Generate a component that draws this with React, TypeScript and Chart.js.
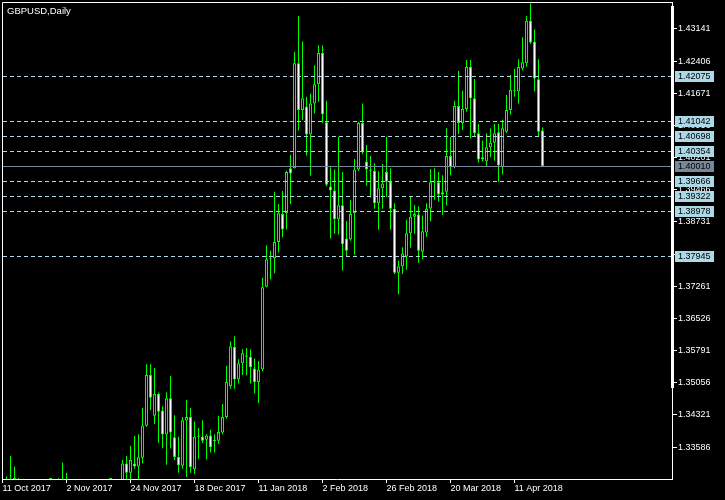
import React, { useEffect, useRef } from 'react';
import { Chart, registerables } from 'chart.js';

Chart.register(...registerables);

const symbolTitle = 'GBPUSD,Daily';

const tickIndexes = [0, 16, 32, 48, 64, 80, 96, 112, 128];
const tickDates = [
  '11 Oct 2017', '2 Nov 2017', '24 Nov 2017', '18 Dec 2017', '11 Jan 2018',
  '2 Feb 2018', '26 Feb 2018', '20 Mar 2018', '11 Apr 2018',
];

const priceTicks = [
  1.43141, 1.42406, 1.41671, 1.40936, 1.40201, 1.39466, 1.38731,
  1.37996, 1.37261, 1.36526, 1.35791, 1.35056, 1.34321, 1.33586,
];

const levels = [1.42075, 1.41042, 1.40698, 1.40354, 1.39666, 1.39322, 1.38978, 1.37945];
const bidPrice = 1.4001;

const opens = [
  1.3195, 1.3245, 1.3270, 1.3288, 1.3265, 1.3195, 1.3200, 1.3190, 1.3200, 1.3210,
  1.3160, 1.3265, 1.3130, 1.3130, 1.3220, 1.3280, 1.3255, 1.3060, 1.3075, 1.3160,
  1.3150, 1.3120, 1.3150, 1.3190, 1.3120, 1.3170, 1.3185, 1.3210, 1.3210, 1.3225,
  1.3245, 1.3321, 1.3300, 1.3321, 1.3314, 1.3334, 1.3407, 1.3523, 1.3430, 1.3480,
  1.3442, 1.3387, 1.3470, 1.3381, 1.3336, 1.3316, 1.3419, 1.3427, 1.3308, 1.3382,
  1.3382, 1.3375, 1.3385, 1.3375, 1.3373, 1.3392, 1.3427, 1.3498, 1.3587, 1.3513,
  1.3550, 1.3568, 1.3565, 1.3538, 1.3507, 1.3536, 1.3725, 1.3788, 1.3790, 1.3827,
  1.3891, 1.3893, 1.3996, 1.3996, 1.4236, 1.4129, 1.4137, 1.4073, 1.4144, 1.4188,
  1.4259, 1.4101, 1.3954, 1.3945, 1.3879, 1.3911, 1.3835, 1.3833, 1.3893, 1.3993,
  1.4099, 1.4011, 1.3993, 1.3990, 1.3916, 1.3950, 1.3987, 1.3965, 1.3903, 1.3757,
  1.3772, 1.3794, 1.3847, 1.3885, 1.3890, 1.3805, 1.3849, 1.3904, 1.3964, 1.3964,
  1.3941, 1.3942, 1.4024, 1.3998, 1.4138, 1.4099, 1.4131, 1.4227, 1.4156, 1.4076,
  1.4021, 1.4011, 1.4044, 1.4054, 1.4078, 1.3998, 1.4079, 1.4129, 1.4175, 1.4171,
  1.4224, 1.4236, 1.4333, 1.4285, 1.4199, 1.4082,
];
const highs = [
  1.3260, 1.3291, 1.3338, 1.3314, 1.3288, 1.3230, 1.3250, 1.3240, 1.3230, 1.3260,
  1.3275, 1.3270, 1.3160, 1.3230, 1.3287, 1.3323, 1.3300, 1.3120, 1.3175, 1.3180,
  1.3160, 1.3160, 1.3220, 1.3195, 1.3180, 1.3200, 1.3230, 1.3270, 1.3230, 1.3275,
  1.3329, 1.3338, 1.3361, 1.3384, 1.3388, 1.3448, 1.3548, 1.3548, 1.3539, 1.3483,
  1.3452, 1.3484, 1.3521, 1.3431, 1.3382, 1.3427, 1.3466, 1.3448, 1.3417, 1.3402,
  1.3420, 1.3388, 1.3398, 1.3388, 1.3430, 1.3457, 1.3544, 1.3600, 1.3612, 1.3559,
  1.3582, 1.3585, 1.3582, 1.3561, 1.3555, 1.3745, 1.3820, 1.3807, 1.3942, 1.3914,
  1.3944, 1.3990, 1.4026, 1.4262, 1.4344, 1.4286, 1.4159, 1.4166, 1.4231, 1.4277,
  1.4277, 1.4150, 1.3998, 1.3993, 1.4068, 1.3987, 1.3875, 1.3923, 1.4017, 1.4102,
  1.4144, 1.4049, 1.4024, 1.4007, 1.3989, 1.4006, 1.4068, 1.3996, 1.3916, 1.3785,
  1.3815, 1.3878, 1.3931, 1.3912, 1.3909, 1.3888, 1.3916, 1.3994, 1.3996, 1.3987,
  1.3980, 1.4087, 1.4067, 1.4150, 1.4218, 1.4173, 1.4243, 1.4243, 1.4200, 1.4097,
  1.4059, 1.4076, 1.4087, 1.4097, 1.4097, 1.4106, 1.4163, 1.4209, 1.4223, 1.4245,
  1.4295, 1.4344, 1.4373, 1.4313, 1.4245, 1.4089,
];
const lows = [
  1.3185, 1.3180, 1.3245, 1.3240, 1.3175, 1.3165, 1.3140, 1.3160, 1.3140, 1.3160,
  1.3150, 1.3120, 1.3080, 1.3120, 1.3200, 1.3240, 1.3040, 1.3030, 1.3060, 1.3110,
  1.3080, 1.3090, 1.3140, 1.3060, 1.3100, 1.3140, 1.3150, 1.3190, 1.3195, 1.3210,
  1.3228, 1.3275, 1.3282, 1.3309, 1.3283, 1.3321, 1.3405, 1.3443, 1.3411, 1.3368,
  1.3356, 1.3318, 1.3355, 1.3329, 1.3300, 1.3309, 1.3290, 1.3300, 1.3297, 1.3331,
  1.3368, 1.3330, 1.3346, 1.3346, 1.3366, 1.3388, 1.3423, 1.3492, 1.3492, 1.3504,
  1.3523, 1.3522, 1.3504, 1.3481, 1.3459, 1.3531, 1.3724, 1.3742, 1.3756, 1.3803,
  1.3838, 1.3856, 1.3914, 1.3995, 1.4082, 1.4106, 1.4025, 1.3979, 1.4121, 1.4148,
  1.4100, 1.3954, 1.3835, 1.3846, 1.3844, 1.3762, 1.3795, 1.3830, 1.3798, 1.3990,
  1.4028, 1.3956, 1.3929, 1.3903, 1.3855, 1.3903, 1.3930, 1.3855, 1.3754, 1.3708,
  1.3754, 1.3764, 1.3814, 1.3846, 1.3780, 1.3788, 1.3839, 1.3874, 1.3924, 1.3919,
  1.3889, 1.3911, 1.3980, 1.3996, 1.4074, 1.4083, 1.4125, 1.4064, 1.4068, 1.4009,
  1.4011, 1.4001, 1.4021, 1.4013, 1.3965, 1.3982, 1.4077, 1.4118, 1.4159, 1.4143,
  1.4219, 1.4228, 1.4280, 1.4171, 1.4067, 1.4001,
];
const closes = [
  1.3245, 1.3270, 1.3280, 1.3265, 1.3195, 1.3200, 1.3190, 1.3200, 1.3210, 1.3160,
  1.3265, 1.3130, 1.3130, 1.3220, 1.3280, 1.3255, 1.3060, 1.3075, 1.3160, 1.3150,
  1.3120, 1.3150, 1.3190, 1.3120, 1.3170, 1.3185, 1.3210, 1.3210, 1.3225, 1.3245,
  1.3321, 1.3300, 1.3329, 1.3314, 1.3335, 1.3408, 1.3523, 1.3471, 1.3480, 1.3439,
  1.3387, 1.3470, 1.3392, 1.3336, 1.3317, 1.3420, 1.3427, 1.3313, 1.3382, 1.3383,
  1.3373, 1.3385, 1.3358, 1.3372, 1.3393, 1.3427, 1.3507, 1.3589, 1.3513, 1.3550,
  1.3573, 1.3565, 1.3541, 1.3507, 1.3536, 1.3724, 1.3788, 1.3790, 1.3827, 1.3893,
  1.3856, 1.3987, 1.3984, 1.4236, 1.4129, 1.4156, 1.4073, 1.4144, 1.4188, 1.4259,
  1.4119, 1.3958, 1.3945, 1.3879, 1.3911, 1.3822, 1.3807, 1.3891, 1.3993, 1.4099,
  1.4032, 1.3993, 1.3990, 1.3916, 1.3950, 1.3961, 1.3965, 1.3903, 1.3757, 1.3772,
  1.3801, 1.3847, 1.3885, 1.3891, 1.3807, 1.3852, 1.3904, 1.3964, 1.3963, 1.3936,
  1.3936, 1.4024, 1.3998, 1.4138, 1.4099, 1.4131, 1.4227, 1.4156, 1.4076, 1.4016,
  1.4016, 1.4044, 1.4054, 1.4076, 1.4002, 1.4087, 1.4129, 1.4175, 1.4173, 1.4227,
  1.4238, 1.4333, 1.4283, 1.4201, 1.4079, 1.4001,
];

const LIME = '#00ff00';
const LEVEL_COLOR = '#add8e6';
const BID_COLOR = '#778899';
const FONT = '"Liberation Sans", Arial, sans-serif';

const mt4Overlay = {
  id: 'mt4Overlay',
  afterDatasetsDraw(chart: any) {
    const { ctx, chartArea: a } = chart;
    const y = chart.scales.y;
    ctx.save();
    // horizontal level lines
    ctx.lineWidth = 1;
    ctx.strokeStyle = LEVEL_COLOR;
    ctx.setLineDash([4, 3]);
    levels.forEach((v) => {
      const r = Math.round(y.getPixelForValue(v));
      ctx.beginPath();
      ctx.moveTo(a.left + 1, r + 0.5);
      ctx.lineTo(a.right, r + 0.5);
      ctx.stroke();
    });
    ctx.setLineDash([]);
    // bid line
    const rb = Math.round(y.getPixelForValue(bidPrice));
    ctx.strokeStyle = BID_COLOR;
    ctx.beginPath();
    ctx.moveTo(a.left + 1, rb + 0.5);
    ctx.lineTo(a.right, rb + 0.5);
    ctx.stroke();

    // frame (left & top)
    ctx.strokeStyle = '#ffffff';
    ctx.beginPath();
    ctx.moveTo(a.left + 0.5, a.bottom);
    ctx.lineTo(a.left + 0.5, a.top + 0.5);
    ctx.lineTo(a.right + 1, a.top + 0.5);
    ctx.stroke();
    // thick segment of the price scale
    ctx.fillStyle = '#ffffff';
    ctx.fillRect(a.right - 1, 6, 3, 382);

    // labels of levels
    ctx.font = `9px ${FONT}`;
    ctx.textBaseline = 'middle';
    ctx.textAlign = 'left';
    levels.forEach((v) => {
      const r = Math.round(y.getPixelForValue(v));
      ctx.fillStyle = LEVEL_COLOR;
      ctx.fillRect(a.right + 3, r - 5, 39, 11);
      ctx.fillStyle = '#000000';
      ctx.fillText(v.toFixed(5), a.right + 6, r + 0.5);
    });
    ctx.fillStyle = BID_COLOR;
    ctx.fillRect(a.right + 3, rb - 5, 39, 11);
    ctx.fillStyle = '#000000';
    ctx.fillText(bidPrice.toFixed(5), a.right + 6, rb + 0.5);

    // title
    ctx.fillStyle = '#ffffff';
    ctx.font = `9.5px ${FONT}`;
    ctx.textBaseline = 'alphabetic';
    ctx.fillText(symbolTitle, 7, 14);
    ctx.restore();
  },
};

export default function App() {
  const ref = useRef<HTMLCanvasElement>(null);

  useEffect(() => {
    const wicks = lows.map((l, i) => ({ x: i, y: [l, highs[i]] }));
    const bodies = opens.map((o, i) => ({ x: i, y: [o, closes[i]] }));
    const bodyFill = opens.map((o, i) => (closes[i] < o ? '#ffffff' : '#000000'));

    const chart = new Chart(ref.current as HTMLCanvasElement, {
      type: 'bar',
      data: {
        datasets: [
          {
            label: 'wick',
            data: wicks as any,
            backgroundColor: LIME,
            borderWidth: 0,
            grouped: false,
            barPercentage: 0.25,
            categoryPercentage: 1,
            inflateAmount: 0,
            order: 2,
            clip: 0,
          } as any,
          {
            label: 'body',
            data: bodies as any,
            backgroundColor: bodyFill,
            borderColor: LIME,
            borderWidth: 1,
            borderSkipped: false,
            grouped: false,
            barPercentage: 0.75,
            categoryPercentage: 1,
            inflateAmount: 0,
            minBarLength: 1,
            order: 1,
            clip: 0,
          } as any,
        ],
      },
      options: {
        responsive: false,
        animation: false,
        devicePixelRatio: 1,
        events: [],
        layout: { padding: { left: 2, top: 2, right: 0, bottom: 0 } },
        plugins: { legend: { display: false }, tooltip: { enabled: false } },
        scales: {
          x: {
            type: 'linear',
            position: 'bottom',
            min: -0.125,
            max: 167.375,
            offset: false,
            afterBuildTicks: (s: any) => {
              s.ticks = tickIndexes.map((v) => ({ value: v }));
            },
            afterFit: (s: any) => {
              s.height = 21;
              s.paddingLeft = 0;
              s.paddingRight = 0;
            },
            ticks: {
              autoSkip: false,
              maxRotation: 0,
              minRotation: 0,
              align: 'start',
              padding: 0,
              color: '#ffffff',
              font: { family: FONT, size: 9 },
              callback: (_v: any, i: number) => tickDates[i] ?? '',
            },
            grid: {
              display: true,
              offset: false,
              drawOnChartArea: false,
              drawTicks: true,
              tickLength: 4,
              color: '#ffffff',
              tickColor: '#ffffff',
            },
            border: { display: true, color: '#ffffff', width: 1 },
          } as any,
          y: {
            type: 'linear',
            position: 'right',
            min: 1.32855,
            max: 1.43758,
            beginAtZero: false,
            afterBuildTicks: (s: any) => {
              s.ticks = priceTicks.map((v) => ({ value: v }));
            },
            afterFit: (s: any) => {
              s.width = 53;
              s.paddingTop = 0;
              s.paddingBottom = 0;
            },
            ticks: {
              autoSkip: false,
              padding: 1,
              color: '#ffffff',
              font: { family: FONT, size: 9 },
              callback: (v: any) => Number(v).toFixed(5),
            },
            grid: {
              display: true,
              drawOnChartArea: false,
              drawTicks: true,
              tickLength: 5,
              color: '#ffffff',
              tickColor: '#ffffff',
            },
            border: { display: true, color: '#ffffff', width: 1 },
          } as any,
        },
      },
      plugins: [mt4Overlay],
    });
    return () => chart.destroy();
  }, []);

  return (
    <div style={{ position: 'absolute', left: 0, top: 0, width: 725, height: 500, background: '#000000' }}>
      <canvas ref={ref} width={725} height={500} style={{ display: 'block', width: 725, height: 500 }} />
    </div>
  );
}
